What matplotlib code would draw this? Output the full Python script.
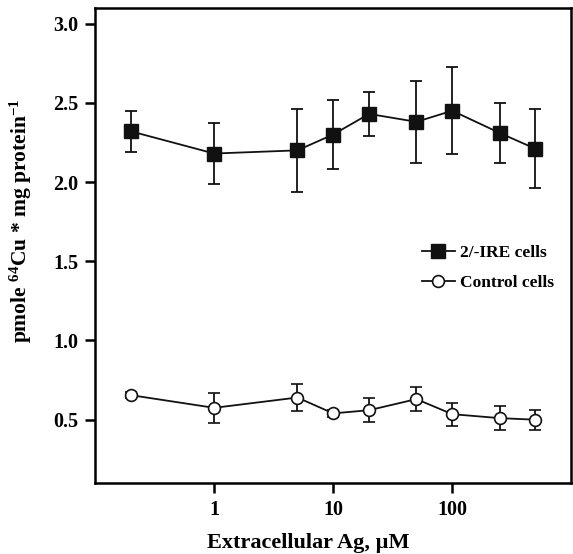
import matplotlib
matplotlib.use("Agg")
import matplotlib.pyplot as plt
from matplotlib.ticker import FixedLocator, NullLocator, FixedFormatter

# Ag concentrations (uM)
ag_conc = [0.2, 1, 5, 10, 20, 50, 100, 250, 500]

# 2/-IRE cells
ire_mean = [2.32, 2.18, 2.20, 2.30, 2.43, 2.38, 2.45, 2.31, 2.21]
ire_err = [0.13, 0.195, 0.26, 0.22, 0.14, 0.26, 0.275, 0.19, 0.25]

# Control cells
ctrl_mean = [0.655, 0.575, 0.64, 0.54, 0.56, 0.63, 0.535, 0.51, 0.50]
ctrl_err = [0.02, 0.095, 0.085, 0.02, 0.075, 0.075, 0.072, 0.076, 0.063]

x_ticks = [1, 10, 100]
x_labels = ["1", "10", "100"]
y_ticks = [0.5, 1.0, 1.5, 2.0, 2.5, 3.0]

plt.rcParams["font.family"] = ["Liberation Serif", "DejaVu Serif"]
plt.rcParams["font.weight"] = "bold"
plt.rcParams["mathtext.fontset"] = "custom"
plt.rcParams["mathtext.rm"] = "Liberation Serif:bold"
plt.rcParams["mathtext.it"] = "Liberation Serif:bold"
plt.rcParams["mathtext.bf"] = "Liberation Serif:bold"

fig = plt.figure(figsize=(5.73, 5.54), dpi=100)
ax = fig.add_axes([0.166, 0.128, 0.831, 0.858])

ire = ax.errorbar(ag_conc, ire_mean, yerr=ire_err, color="#111111", marker="s",
                  markersize=9.5, linewidth=1.3, elinewidth=1.3, capsize=4.5,
                  capthick=1.3)
ctrl = ax.errorbar(ag_conc, ctrl_mean, yerr=ctrl_err, color="#111111", marker="o",
                   markerfacecolor="white", markeredgewidth=1.2, markersize=8.5,
                   linewidth=1.3, elinewidth=1.3, capsize=4.5, capthick=1.3)

ax.set_xscale("log")
ax.set_xlim(0.1, 1000)
ax.set_ylim(0.1, 3.1)
ax.xaxis.set_major_locator(FixedLocator(x_ticks))
ax.xaxis.set_major_formatter(FixedFormatter(x_labels))
ax.xaxis.set_minor_locator(NullLocator())
ax.set_yticks(y_ticks)
ax.set_yticklabels([f"{v:.1f}" for v in y_ticks])

for s in ax.spines.values():
    s.set_linewidth(1.8)
ax.tick_params(direction="out", length=7, width=1.8, labelsize=14.5, pad=5)

ax.set_xlabel("Extracellular Ag, \u00b5M", fontsize=16, fontweight="bold")
ax.xaxis.set_label_coords(0.447, -0.105)
ax.set_ylabel("pmole $^{64}$Cu * mg protein$^{-1}$", fontsize=15.5,
              fontweight="bold")
ax.yaxis.set_label_coords(-0.128, 0.552)

leg = ax.legend(handles=[ire[0], ctrl[0]], labels=["2/-IRE cells", "Control cells"],
                loc="center right", bbox_to_anchor=(0.996, 0.453), frameon=False,
                fontsize=12.5, handlelength=1.9, handletextpad=0.3,
                labelspacing=0.8)
for t in leg.get_texts():
    t.set_fontweight("bold")

fig.savefig("out.png", dpi=100)
